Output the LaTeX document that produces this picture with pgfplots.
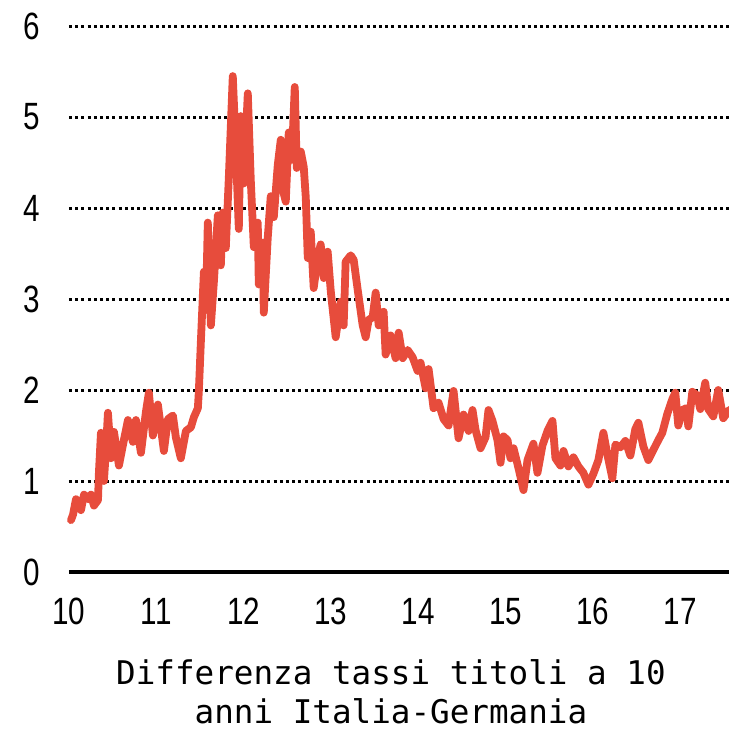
\documentclass[border=0pt]{standalone}
\usepackage{fontspec}
\setmainfont{DejaVu Sans Mono}
\newfontfamily\tickfont[FakeStretch=0.78]{Liberation Sans}
\newfontfamily\titlefont{DejaVu Sans Mono}
\usepackage{pgfplots}
\pgfplotsset{compat=1.18}
\definecolor{spread}{RGB}{231,76,60}
\begin{document}
\begin{tikzpicture}
\begin{axis}[
  at={(0,0)}, anchor=south west,
  scale only axis, width=330pt, height=273pt,
  xmin=10, xmax=17.56, ymin=0, ymax=6,
  axis x line*=bottom, axis y line*=left,
  separate axis lines,
  x axis line style={black, line width=1.65pt},
  y axis line style={draw=none},
  xtick={10,...,17}, ytick={0,...,6},
  major tick length=0pt,
  ymajorgrids,
  grid style={black, line width=1.5pt, dash pattern=on 1.5pt off 1.6pt},
  /pgf/number format/assume math mode=true,
  ticklabel style={font=\tickfont\fontsize{19}{22}\selectfont},
  yticklabel style={anchor=east, inner sep=0pt, xshift=-14.5pt},
  xticklabel style={anchor=north, inner sep=0pt, yshift=-13pt},
  clip=false,
]
\addplot[spread, line width=3.9pt, line join=round, line cap=round] table {
x y
10.023 0.57
10.046 0.63
10.080 0.80
10.114 0.74
10.137 0.68
10.172 0.85
10.217 0.80
10.252 0.85
10.286 0.73
10.332 0.79
10.343 1.10
10.366 1.53
10.400 1.00
10.423 1.34
10.446 1.75
10.481 1.25
10.515 1.54
10.572 1.17
10.629 1.45
10.675 1.67
10.732 1.43
10.767 1.67
10.824 1.31
10.881 1.76
10.915 1.97
10.961 1.50
11.018 1.84
11.087 1.33
11.133 1.68
11.190 1.72
11.224 1.48
11.281 1.25
11.339 1.55
11.396 1.59
11.430 1.70
11.476 1.80
11.487 1.98
11.510 2.52
11.545 3.30
11.568 2.88
11.590 3.84
11.625 2.71
11.659 3.18
11.705 3.92
11.739 3.37
11.762 3.95
11.796 3.56
11.831 4.34
11.876 5.45
11.911 4.64
11.945 3.77
11.968 5.01
12.002 4.27
12.048 5.26
12.082 4.31
12.117 3.57
12.162 3.84
12.174 3.16
12.220 3.62
12.231 2.85
12.277 3.68
12.311 4.13
12.346 3.90
12.391 4.47
12.426 4.75
12.449 4.20
12.483 4.07
12.517 4.83
12.552 4.53
12.586 5.33
12.609 4.44
12.655 4.62
12.689 4.45
12.712 4.12
12.735 3.45
12.769 3.74
12.803 3.12
12.849 3.46
12.883 3.60
12.918 3.23
12.963 3.52
12.998 3.09
13.055 2.58
13.112 2.97
13.146 2.71
13.169 3.41
13.227 3.48
13.261 3.43
13.307 3.10
13.364 2.71
13.398 2.58
13.432 2.77
13.478 2.80
13.513 3.07
13.547 2.71
13.604 2.86
13.627 2.39
13.684 2.60
13.741 2.35
13.776 2.63
13.822 2.35
13.879 2.44
13.936 2.36
13.993 2.21
14.027 2.30
14.085 2.02
14.119 2.23
14.176 1.80
14.233 1.86
14.291 1.68
14.348 1.61
14.405 1.99
14.462 1.47
14.519 1.73
14.577 1.55
14.622 1.78
14.657 1.56
14.714 1.36
14.771 1.48
14.805 1.78
14.851 1.66
14.908 1.45
14.943 1.20
14.977 1.49
15.023 1.45
15.057 1.25
15.092 1.36
15.149 1.14
15.206 0.90
15.252 1.23
15.320 1.41
15.366 1.09
15.423 1.39
15.481 1.55
15.538 1.66
15.572 1.25
15.629 1.17
15.664 1.33
15.721 1.16
15.778 1.26
15.835 1.16
15.892 1.09
15.950 0.96
16.007 1.08
16.064 1.23
16.121 1.53
16.167 1.29
16.224 1.03
16.259 1.40
16.316 1.37
16.373 1.44
16.430 1.28
16.487 1.57
16.522 1.64
16.579 1.38
16.636 1.23
16.693 1.34
16.751 1.45
16.796 1.53
16.854 1.74
16.911 1.90
16.945 1.97
16.979 1.61
17.025 1.78
17.071 1.80
17.094 1.60
17.140 1.98
17.197 1.94
17.231 1.79
17.288 2.08
17.323 1.79
17.380 1.71
17.437 2.00
17.494 1.69
17.563 1.78
17.600 1.75
};
\end{axis}
\node[font=\titlefont\fontsize{16.3}{20}\selectfont, anchor=base] at (161pt,-56pt) {Differenza tassi titoli a 10};
\node[font=\titlefont\fontsize{16.3}{20}\selectfont, anchor=base] at (161pt,-75.5pt) {anni Italia-Germania};
\pgfresetboundingbox
\path[use as bounding box] (-34.5pt,-78.5pt) rectangle (330pt,286pt);
\end{tikzpicture}
\end{document}
